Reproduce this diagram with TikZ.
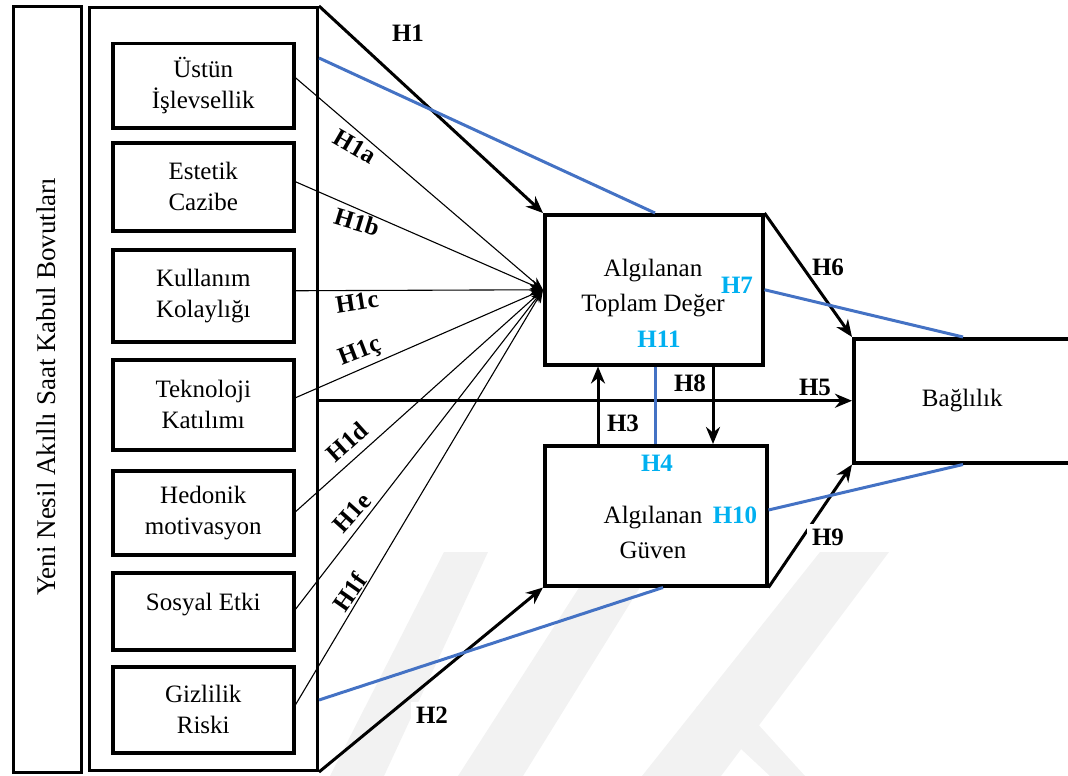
\documentclass[tikz,border=0pt]{standalone}
\usepackage{fontspec}
\setmainfont{Liberation Serif}
\usetikzlibrary{arrows.meta,calc}
\definecolor{linkblue}{HTML}{4472C4}
\definecolor{labelblue}{HTML}{00B0F0}
\definecolor{wmark}{HTML}{F2F2F2}

\begin{document}
\begin{tikzpicture}[x=1pt,y=-1pt,
  boxtext/.style={font=\fontsize{25}{31}\selectfont},
  dimbox/.style={draw, line width=3.5pt, fill=white, inner sep=0pt, anchor=north west,
    align=center, boxtext},
  frame/.style={draw, line width=3pt, inner sep=0pt, anchor=north west},
  hyp/.style={font=\fontsize{25}{29}\selectfont\bfseries, inner sep=2pt},
  hyprot/.style={hyp, inner sep=0pt},
  hypw/.style={hyp, fill=white, inner sep=5pt},
  hypblue/.style={hyp, text=labelblue},
  thin/.style={line width=1.1pt, -{Stealth[length=13pt,width=10pt]}},
  thick/.style={line width=3pt, -{Stealth[length=17pt,width=14pt]}},
  blueline/.style={line width=3pt, linkblue}
]
\useasboundingbox (0,0) rectangle (1068,776);

% faint watermark stripes
\fill[wmark] (330,776) -- (444,552) -- (488,552) -- (384,776) -- cycle;
\fill[wmark] (458,776) -- (600,555) -- (660,555) -- (523,776) -- cycle;
\fill[wmark] (642,776) -- (820,552) -- (889,552) -- (721,776) -- cycle;
\fill[wmark] (696,707) -- (736,700) -- (805,776) -- (770,776) -- cycle;

% dimension frames
\node[frame, minimum width=68pt, minimum height=766pt] (dim) at (12,5) {};
\node[rotate=90, font=\fontsize{27}{31}\selectfont] (dimtext) at (46,387)
  {Yeni Nesil Akıllı Saat Kabul Bovutları};
\node[frame, minimum width=228pt, minimum height=763pt] (cont) at (88,6) {};

% acceptance dimensions
\node[dimbox, minimum width=181pt, minimum height=84pt] (b1) at (111,42)  {Üstün\\İşlevsellik};
\node[dimbox, minimum width=181pt, minimum height=88pt] (b2) at (111,141) {Estetik\\Cazibe};
\node[dimbox, minimum width=181pt, minimum height=92pt] (b3) at (111,248) {Kullanım\\Kolaylığı};
\node[dimbox, minimum width=181pt, minimum height=90pt] (b4) at (111,358) {Teknoloji\\Katılımı};
\node[dimbox, minimum width=181pt, minimum height=84pt] (b5) at (111,469) {Hedonik\\motivasyon};
\node[dimbox, minimum width=181pt, minimum height=77pt] (b6) at (111,571) {Sosyal Etki\\[-12pt]\mbox{}};
\node[dimbox, minimum width=181pt, minimum height=86pt] (b7) at (111,665) {Gizlilik\\Riski};

% constructs
\node[dimbox, minimum width=218pt, minimum height=150pt] (atd) at (543,213) {};
\node[boxtext, align=center, font=\fontsize{25}{35}\selectfont] (atdtext) at (653,288)
  {Algılanan\\Toplam Değer};
\node[dimbox, minimum width=222pt, minimum height=140pt] (gv) at (543,444) {};
\node[boxtext, align=center, font=\fontsize{25}{35}\selectfont] (gvtext) at (653,532)
  {Algılanan\\Güven};
\node[dimbox, minimum width=217pt, minimum height=124pt] (bag) at (852,337) {Bağlılık};

% sub-hypotheses into perceived total value
\draw[thin] ([yshift=8pt]b1.east) -- (atd.west);
\draw[thin] ([yshift=5pt]b2.east) -- (atd.west);
\draw[thin] ([yshift=5pt]b3.east) -- (atd.west);
\draw[thin] ([yshift=7pt]b4.east) -- (atd.west);
\draw[thin] ([yshift=1pt]b5.east) -- (atd.west);
\draw[thin] ([yshift=2pt]b6.east) -- (atd.west);
\draw[thin] ([yshift=5pt]b7.east) -- (atd.west);

% main paths
\draw[thick] (cont.north east) -- (atd.north west);
\draw[thick] (cont.south east) -- (gv.south west);
\draw[thick] (atd.north east) -- (bag.north west);
\draw[thick] (gv.south east) -- (bag.south west);
\draw[thick] (cont.east |- bag.west) -- (bag.west);
\draw[thick] (598,0 |- gv.north) -- (598,0 |- atd.south);
\draw[thick] (713,0 |- atd.south) -- (713,0 |- gv.north);

% mediation links
\draw[blueline] (cont.east |- 0,58) -- (655,0 |- atd.north);
\draw[blueline] (655,0 |- atd.south) -- (655,0 |- gv.north);
\draw[blueline] (atd.east) -- (963,0 |- bag.north);
\draw[blueline] (gv.east |- 0,510) -- (963,0 |- bag.south);
\draw[blueline] (cont.east |- 0,700) -- (663,0 |- gv.south);

% hypothesis labels
\node[hyp] (h1) at (408,33) {H1};
\node[hyprot, rotate=-30] (h1a) at (355,147) {H1a};
\node[hyprot, rotate=-17] (h1b) at (357,222) {H1b};
\node[hyprot, rotate=9] (h1c) at (357,302) {H1c};
\node[hyprot, rotate=21] (h1cc) at (360,352) {H1ç};
\node[hyprot, rotate=42] (h1d) at (347,442) {H1d};
\node[hyprot, rotate=48] (h1e) at (352,513) {H1e};
\node[hyprot, rotate=55] (h1f) at (350,592) {H1f};
\node[hypw] (h2) at (432,715) {H2};
\node[hyp] (h3) at (623,423) {H3};
\node[hyp] (h5) at (815,387) {H5};
\node[hyp] (h6) at (828,267) {H6};
\node[hyp] (h8) at (690,383) {H8};
\node[hypw] (h9) at (828,537) {H9};
\node[hypblue] (h4) at (657,463) {H4};
\node[hypblue] (h7) at (737,285) {H7};
\node[hypblue] (h10) at (735,515) {H10};
\node[hypblue] (h11) at (659,339) {H11};
\end{tikzpicture}
\end{document}
